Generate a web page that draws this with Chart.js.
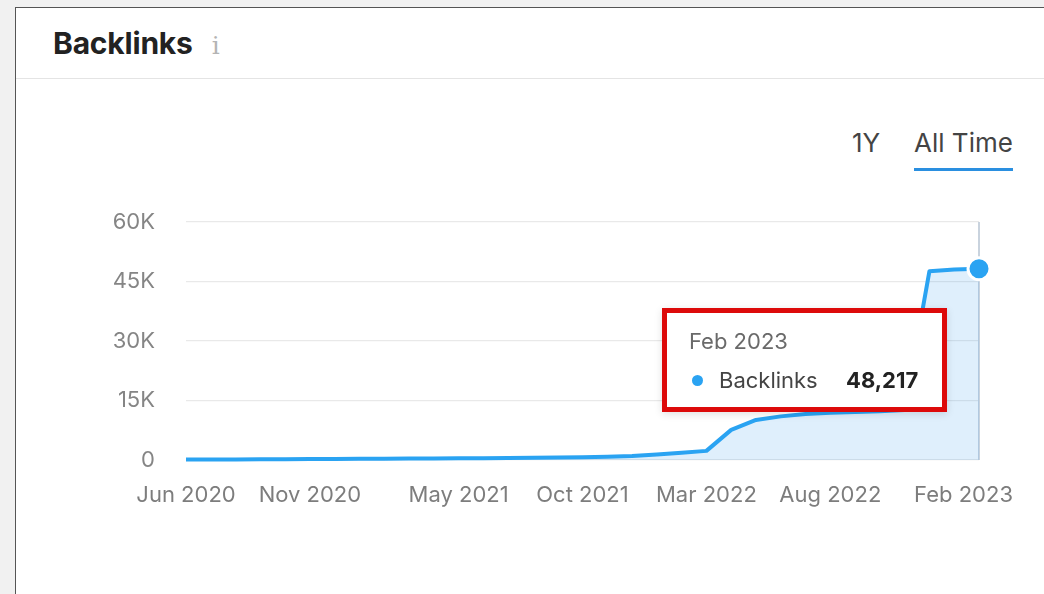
<!DOCTYPE html>
<html>
<head>
<meta charset="utf-8">
<script src="https://cdn.jsdelivr.net/npm/chart.js@4/dist/chart.umd.min.js"></script>
<style>
  html, body { margin: 0; padding: 0; }
  body {
    width: 1044px; height: 594px; overflow: hidden; position: relative;
    background: #f1f1f1; font-family: Inter, "Noto Sans", sans-serif;
  }
  .card {
    position: absolute; left: 15px; top: 7px; width: 1040px; height: 600px;
    background: #fff; border: 1.5px solid #555; box-sizing: border-box;
  }
  .card h2 {
    position: absolute; left: 37px; top: 20px; margin: 0; line-height: 30px;
    font-size: 30px; font-weight: 700; color: #222; letter-spacing: -0.2px;
  }
  .card h2 .info {
    font-family: "DejaVu Serif", serif; font-weight: 400; font-size: 25px;
    color: #b4b4b4; margin-left: 19px;
  }
  .card .sep { position: absolute; left: 0; right: 0; top: 70px; height: 1px; background: #e4e4e4; }
  .tabs { position: absolute; top: 130px; left: 0; font-size: 26px; line-height: 26px; color: #444; }
  .tabs span { position: absolute; white-space: nowrap; }
  .tabs .y1 { left: 852px; }
  .tabs .on { left: 914px; padding-bottom: 12px; border-bottom: 3px solid #2a8fe0; }
  #wrap { position: absolute; left: 100px; top: 210px; width: 930px; height: 300px; }
  #tip {
    position: absolute; width: 285px; height: 104px; box-sizing: border-box;
    background: #fff; border: 5px solid #dd0a0a; opacity: 0;
    box-shadow: 0 2px 8px rgba(0,0,0,0.12); pointer-events: none;
  }
  #tip .t { position: absolute; left: 22px; top: 17px; font-size: 22px; line-height: 22px; color: #6a6a6a; }
  #tip .row { position: absolute; left: 25px; top: 56px; font-size: 22px; line-height: 22px; color: #444; white-space: nowrap; }
  #tip .dot { display: inline-block; width: 11px; height: 11px; border-radius: 50%; background: #2aa3f2; margin-right: 16px; vertical-align: 2px; }
  #tip .v { position: absolute; left: 154px; font-weight: 700; color: #222; }
</style>
</head>
<body>
<div class="card">
  <h2>Backlinks<span class="info">i</span></h2>
  <div class="sep"></div>
</div>
<div class="tabs"><span class="y1">1Y</span><span class="on">All Time</span></div>
<div id="wrap"><canvas id="backlinksChart"></canvas></div>
<div id="tip"><div class="t"></div><div class="row"><span class="dot"></span>Backlinks<span class="v"></span></div></div>

<script>
const months = [
  "Jun 2020", "Jul 2020", "Aug 2020", "Sep 2020", "Oct 2020", "Nov 2020", "Dec 2020",
  "Jan 2021", "Feb 2021", "Mar 2021", "Apr 2021", "May 2021", "Jun 2021", "Jul 2021",
  "Aug 2021", "Sep 2021", "Oct 2021", "Nov 2021", "Dec 2021", "Jan 2022", "Feb 2022",
  "Mar 2022", "Apr 2022", "May 2022", "Jun 2022", "Jul 2022", "Aug 2022", "Sep 2022",
  "Oct 2022", "Nov 2022", "Dec 2022", "Jan 2023", "Feb 2023"
];
const backlinks = [
  100, 120, 150, 180, 200, 230, 260,
  300, 330, 360, 400, 430, 470, 500,
  540, 600, 700, 820, 1000, 1400, 1800,
  2300, 7600, 10100, 11000, 11600, 11900, 12100,
  12300, 12600, 47600, 48000, 48217
];
const shownMonths = ["Jun 2020", "Nov 2020", "May 2021", "Oct 2021", "Mar 2022", "Aug 2022", "Feb 2023"];
const yTicks = [0, 15000, 30000, 45000, 60000];

const lineBlue = "#2aa3f2";
const tickFont = { family: "Inter", size: 22 };

// vertical guide at the hovered month
const hoverLine = {
  id: "hoverLine",
  beforeDatasetsDraw(chart) {
    const active = chart.getActiveElements();
    if (!active.length) return;
    const { ctx, chartArea } = chart;
    ctx.save();
    ctx.strokeStyle = "#c9d3de";
    ctx.lineWidth = 2;
    ctx.beginPath();
    ctx.moveTo(active[0].element.x, chartArea.top);
    ctx.lineTo(active[0].element.x, chartArea.bottom);
    ctx.stroke();
    ctx.restore();
  }
};

function htmlTooltip({ chart, tooltip }) {
  const tip = document.getElementById("tip");
  if (tooltip.opacity === 0) { tip.style.opacity = 0; return; }
  const point = tooltip.dataPoints[0];
  tip.querySelector(".t").textContent = point.label;
  tip.querySelector(".v").textContent = point.formattedValue;
  const wrap = chart.canvas.parentNode;
  tip.style.left = wrap.offsetLeft + tooltip.caretX - 317 + "px";
  tip.style.top = wrap.offsetTop + tooltip.caretY + 39 + "px";
  tip.style.opacity = 1;
}

const chart = new Chart(document.getElementById("backlinksChart"), {
  type: "line",
  data: {
    labels: months,
    datasets: [{
      label: "Backlinks",
      data: backlinks,
      borderColor: lineBlue,
      borderWidth: 4,
      borderJoinStyle: "round",
      backgroundColor: "rgba(42,150,235,0.15)",
      fill: "origin",
      tension: 0,
      clip: false,
      pointRadius: 0,
      pointHoverRadius: 11,
      pointHoverBorderWidth: 3,
      pointHoverBorderColor: "#fff",
      pointHoverBackgroundColor: lineBlue
    }]
  },
  options: {
    responsive: true,
    maintainAspectRatio: false,
    animation: false,
    locale: "en-US",
    events: [],
    layout: { padding: { top: 12, right: 51, bottom: 0, left: 0 } },
    plugins: {
      legend: { display: false },
      tooltip: { enabled: false, external: htmlTooltip }
    },
    scales: {
      x: {
        afterFit(scale) {
          scale.height = 50;
          scale.paddingLeft = 0;
          scale.paddingRight = 0;
        },
        grid: { display: false },
        border: { display: false },
        ticks: {
          autoSkip: false,
          maxRotation: 0,
          padding: 14,
          color: "#7d7d7d",
          font: tickFont,
          callback(value, i) {
            const label = months[i];
            if (!shownMonths.includes(label)) return "";
            // keep the last label inside the card
            return i === months.length - 1 ? label + "\u00a0".repeat(5) : label;
          }
        }
      },
      y: {
        min: 0,
        max: 60000,
        afterFit(scale) {
          scale.width = 86;
          scale.paddingTop = 0;
          scale.paddingBottom = 0;
        },
        afterBuildTicks(scale) { scale.ticks = yTicks.map(v => ({ value: v })); },
        grid: { color: "#e9e9e9", lineWidth: 1.2, drawTicks: false },
        border: { display: false },
        ticks: {
          padding: 31,
          color: "#858585",
          font: tickFont,
          callback: v => (v === 0 ? "0" : v / 1000 + "K")
        }
      }
    }
  },
  plugins: [hoverLine]
});

const last = [{ datasetIndex: 0, index: backlinks.length - 1 }];
chart.setActiveElements(last);
const el = chart.getDatasetMeta(0).data[backlinks.length - 1];
chart.tooltip.setActiveElements(last, { x: el.x, y: el.y });
chart.update();
</script>
</body>
</html>
